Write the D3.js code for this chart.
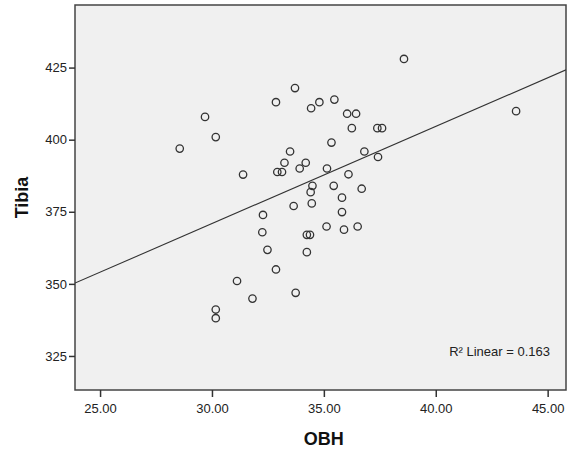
<!DOCTYPE html>
<html>
<head>
<meta charset="utf-8">
<script src="https://cdn.jsdelivr.net/npm/d3@7"></script>
<style>
  body { margin: 0; background: #fff; }
  text { font-family: Arial, "Liberation Sans", sans-serif; }
</style>
</head>
<body>
<div id="dataviz"></div>
<script>
// OBH vs Tibia
var obh = [28.56, 29.69, 30.17, 30.17, 30.17, 31.12, 31.39, 31.81, 32.28, 32.25,
	32.48, 32.86, 32.86, 32.92, 33.13, 33.24, 33.49, 33.65, 33.71, 33.74,
	33.92, 34.19, 34.24, 34.38, 34.24, 34.41, 34.43, 34.46, 34.49, 34.80,
	35.12, 35.14, 35.34, 35.44, 35.47, 35.81, 35.81, 35.90, 36.04, 36.10,
	36.25, 36.44, 36.51, 36.69, 36.81, 37.39, 37.60, 37.42, 38.58, 43.59];
var tibia = [396.9, 407.9, 400.9, 341.1, 338.1, 351.0, 387.9, 344.9, 373.9, 367.9,
	361.8, 413.0, 355.0, 388.8, 388.8, 392.0, 395.9, 377.0, 417.9, 346.9,
	390.0, 392.0, 367.0, 367.0, 361.0, 381.8, 410.9, 377.9, 384.0, 413.0,
	369.9, 390.0, 399.0, 384.0, 413.9, 379.9, 374.9, 368.8, 409.0, 388.0,
	404.0, 409.0, 369.9, 383.0, 395.9, 404.0, 404.0, 394.0, 428.0, 409.9];

var xTicks = [25, 30, 35, 40, 45];
var yTicks = [325, 350, 375, 400, 425];
var xDomain = [23.88, 45.82];
var yDomain = [313.2, 446.7];

// linear fit line
var fitIntercept = 269.8;
var fitSlope = 3.37;
var r2Label = "R\u00B2 Linear = 0.163";

var svgWidth = 567;
var svgHeight = 450;
var plot = {left: 75, right: 566, top: 5, bottom: 390};

var svg = d3.select("#dataviz")
	.append("svg")
	.attr("width", svgWidth)
	.attr("height", svgHeight);

var x = d3.scaleLinear().domain(xDomain).range([plot.left, plot.right]);
var y = d3.scaleLinear().domain(yDomain).range([plot.bottom, plot.top]);

svg.append("rect")
	.attr("x", plot.left)
	.attr("y", plot.top)
	.attr("width", plot.right - plot.left)
	.attr("height", plot.bottom - plot.top)
	.attr("fill", "#f0f0f0")
	.attr("stroke", "#444")
	.attr("stroke-width", 1.5);

svg.append("clipPath")
	.attr("id", "clip")
	.append("rect")
	.attr("x", plot.left)
	.attr("y", plot.top)
	.attr("width", plot.right - plot.left)
	.attr("height", plot.bottom - plot.top);

// axes
var yAxis = svg.append("g")
	.attr("transform", "translate(" + plot.left + ",0)")
	.call(d3.axisLeft(y).tickValues(yTicks).tickSize(6).tickPadding(2).tickFormat(d3.format("d")));
var xAxis = svg.append("g")
	.attr("transform", "translate(0," + plot.bottom + ")")
	.call(d3.axisBottom(x).tickValues(xTicks).tickSize(7).tickPadding(7).tickFormat(d3.format(".2f")));

[xAxis, yAxis].forEach(function(a) {
	a.select(".domain").remove();
	a.selectAll(".tick line").attr("stroke", "#333").attr("stroke-width", 1.5);
	a.selectAll(".tick text")
		.attr("fill", "#222")
		.style("font-size", "13px")
		.style("font-family", "Arial, 'Liberation Sans', sans-serif");
});

svg.append("text")
	.attr("transform", "translate(28," + ((plot.top + plot.bottom) / 2) + ") rotate(-90)")
	.attr("text-anchor", "middle")
	.style("font-size", "18px")
	.style("font-weight", "bold")
	.attr("fill", "#111")
	.text("Tibia");

svg.append("text")
	.attr("x", x(35))
	.attr("y", 445)
	.attr("text-anchor", "middle")
	.style("font-size", "18px")
	.style("font-weight", "bold")
	.attr("fill", "#111")
	.text("OBH");

// fit line
var fitLine = d3.line()
	.x(function(d) { return x(d); })
	.y(function(d) { return y(fitIntercept + fitSlope * d); });

svg.append("path")
	.datum(xDomain)
	.attr("clip-path", "url(#clip)")
	.attr("fill", "none")
	.attr("stroke", "#333")
	.attr("stroke-width", 1.1)
	.attr("d", fitLine);

// points
svg.selectAll("circle.dot")
	.data(obh)
	.enter().append("circle")
	.attr("class", "dot")
	.attr("cx", function(d) { return x(d); })
	.attr("cy", function(d, i) { return y(tibia[i]); })
	.attr("r", 3.7)
	.attr("fill", "none")
	.attr("stroke", "#333")
	.attr("stroke-width", 1.3);

svg.append("text")
	.attr("x", 550)
	.attr("y", 356)
	.attr("text-anchor", "end")
	.style("font-size", "13px")
	.attr("fill", "#222")
	.text(r2Label);
</script>
</body>
</html>
